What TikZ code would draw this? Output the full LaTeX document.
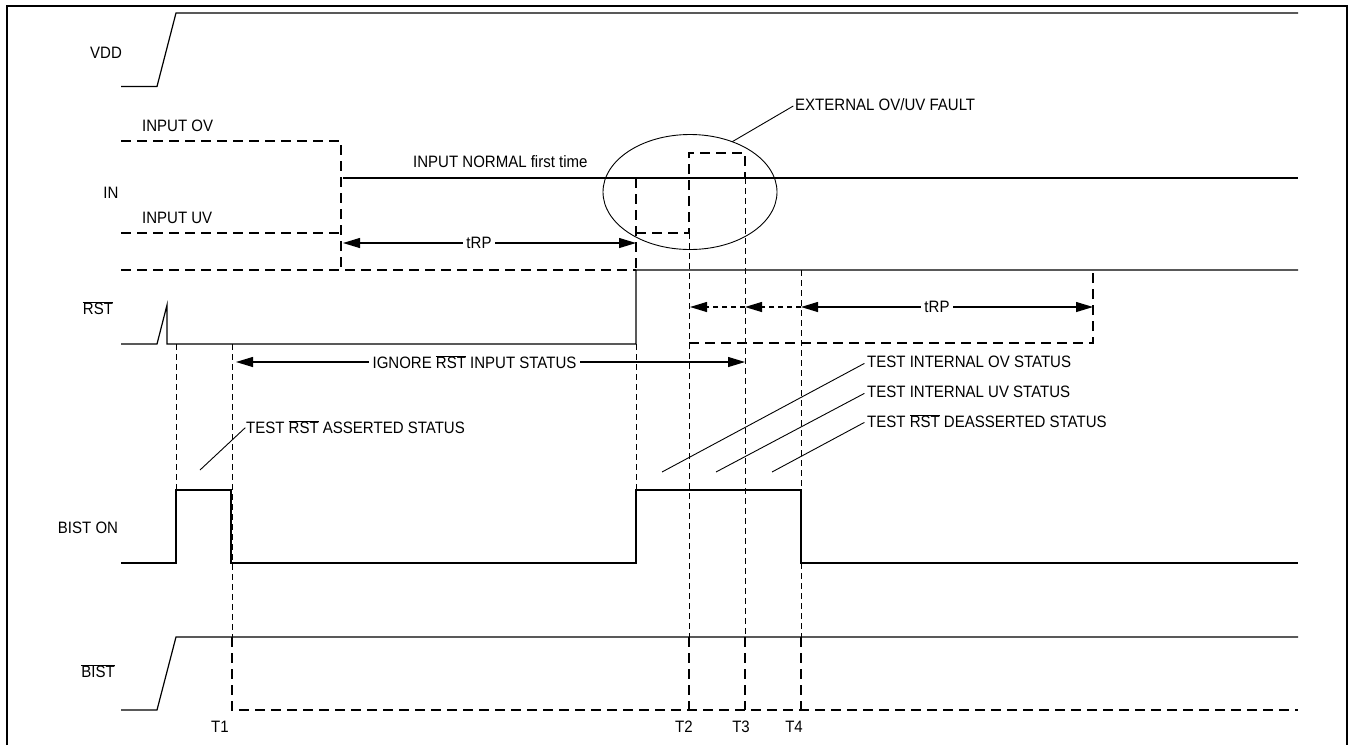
\documentclass[tikz,border=0pt]{standalone}
\usepackage{fontspec}
\setmainfont{Liberation Sans}[FakeStretch=0.91]
\usetikzlibrary{arrows.meta,shapes.geometric}
\begin{document}
\begin{tikzpicture}[x=1pt,y=-1pt,
  sig/.style={line width=1.2pt, line join=miter},
  alt/.style={line width=1.1pt, dash pattern=on 10pt off 6pt},
  guide/.style={line width=1pt, dash pattern=on 6pt off 4pt},
  lbl/.style={font=\fontsize{16.5}{18}\selectfont, inner sep=0pt},
  albl/.style={font=\fontsize{16.5}{18}\selectfont, inner sep=3.5pt},
  lead/.style={line width=0.9pt},
  arr/.style={line width=1.1pt, -{Triangle[length=17pt,width=10pt]}},
  darr/.style={line width=1.1pt, dash pattern=on 5pt off 4pt, -{Triangle[length=17pt,width=10pt]}},
  ]
\useasboundingbox (0,0) rectangle (1351,745);
\draw[line width=1.2pt] (7,745) -- (7,6) -- (1347,6) -- (1347,745);

% signal names
\node[lbl] (vdd) at (106,53) {VDD};
\node[lbl, anchor=west] (inov) at (142,126) {INPUT OV};
\node[lbl] (in) at (111,193) {IN};
\node[lbl, anchor=west] (inuv) at (142,218) {INPUT UV};
\node[lbl, anchor=west] (innorm) at (413,162) {INPUT NORMAL first time};
\node[lbl] (rst) at (98,308) {$\overline{\mbox{RST}}$};
\node[lbl] (biston) at (88,528) {BIST ON};
\node[lbl] (bist) at (98,671) {$\overline{\mbox{BIST}}$};

% time markers
\node[lbl] (t1) at (220,727) {T1};
\node[lbl] (t2) at (684,727) {T2};
\node[lbl] (t3) at (741,727) {T3};
\node[lbl] (t4) at (794,727) {T4};

% VDD
\draw[sig] (121,86.5) -- (157,86.5) -- (176,13) -- (1298,13);

% IN
\draw[alt] (121,141) -- (341,141) -- (341,270);
\draw[alt] (121,233) -- (341,233);
\draw[alt] (121,270) -- (636,270);
\draw[sig] (343,178) -- (1298,178);
\draw[alt] (636,178) -- (636,270);
\draw[alt] (636,233) -- (689,233) -- (689,153) -- (745,153) -- (745,178);

% RST
\draw[sig] (121,344) -- (157,344) -- (167,305) -- (167,344) -- (636,344) -- (636,270) -- (1298,270);
\draw[alt] (689,343) -- (1093,343) -- (1093,270);

% guides
\draw[guide] (176,344) -- (176,490);
\draw[guide] (232,344) -- (232,637);
\draw[guide] (636,344) -- (636,490);
\draw[guide] (689,233) -- (689,637);
\draw[guide] (745,178) -- (745,637);
\draw[guide] (801,270) -- (801,490);
\draw[guide] (801,563) -- (801,637);

% BIST ON
\draw[sig] (121,563) -- (176,563) -- (176,490) -- (231,490) -- (231,563) -- (636,563) -- (636,490) -- (801,490) -- (801,563) -- (1298,563);

% BIST
\draw[sig] (121,710) -- (157,710) -- (176,637) -- (1298,637);
\draw[alt] (232,637) -- (232,710) -- (1298,710);
\draw[alt] (689,637) -- (689,710);
\draw[alt] (745,637) -- (745,710);
\draw[alt] (801,637) -- (801,710);

% tRP (first)
\node[albl] (trpa) at (479,243) {tRP};
\coordinate (trpaL) at (343,243);
\coordinate (trpaR) at (636,243);
\draw[arr] (trpa) -- (trpaL);
\draw[arr] (trpa) -- (trpaR);

% IGNORE RST
\node[albl] (ign) at (474.5,362) {IGNORE $\overline{\mbox{RST}}$ INPUT STATUS};
\coordinate (ignL) at (236,362);
\coordinate (ignR) at (745,362);
\draw[arr] (ign) -- (ignL);
\draw[arr] (ign) -- (ignR);

% tRP (second) and dashed arrows
\coordinate (p2) at (690,307);
\coordinate (p3) at (745,307);
\coordinate (p4) at (801,307);
\coordinate (p5) at (1093,307);
\node[albl] (trpb) at (937,307) {tRP};
\draw[darr] (p3) -- (p2);
\draw[darr] (p4) -- (p3);
\draw[arr] (trpb) -- (p4);
\draw[arr] (trpb) -- (p5);

% external fault
\node[ellipse, draw, line width=0.9pt, inner sep=0pt, outer sep=0pt, minimum width=174pt, minimum height=115pt] (fault) at (690,192) {};
\node[lbl, anchor=west] (ext) at (795,105) {EXTERNAL OV/UV FAULT};
\draw[lead, shorten >=2pt] (fault.50) -- (ext.west);

% test annotations
\node[lbl, anchor=west] (tas) at (246,427) {TEST $\overline{\mbox{RST}}$ ASSERTED STATUS};
\coordinate (tasL) at (200,470);
\draw[lead, shorten >=1pt] (tasL) -- (tas.west);

\node[lbl, anchor=west] (tov) at (867,362) {TEST INTERNAL OV STATUS};
\node[lbl, anchor=west] (tuv) at (867,392) {TEST INTERNAL UV STATUS};
\node[lbl, anchor=west] (tds) at (867,421) {TEST $\overline{\mbox{RST}}$ DEASSERTED STATUS};
\coordinate (tovL) at (662,472);
\coordinate (tuvL) at (716,472);
\coordinate (tdsL) at (772,472);
\draw[lead, shorten >=3pt] (tovL) -- (tov.west);
\draw[lead, shorten >=3pt] (tuvL) -- (tuv.west);
\draw[lead, shorten >=3pt] (tdsL) -- (tds.west);
\end{tikzpicture}
\end{document}
